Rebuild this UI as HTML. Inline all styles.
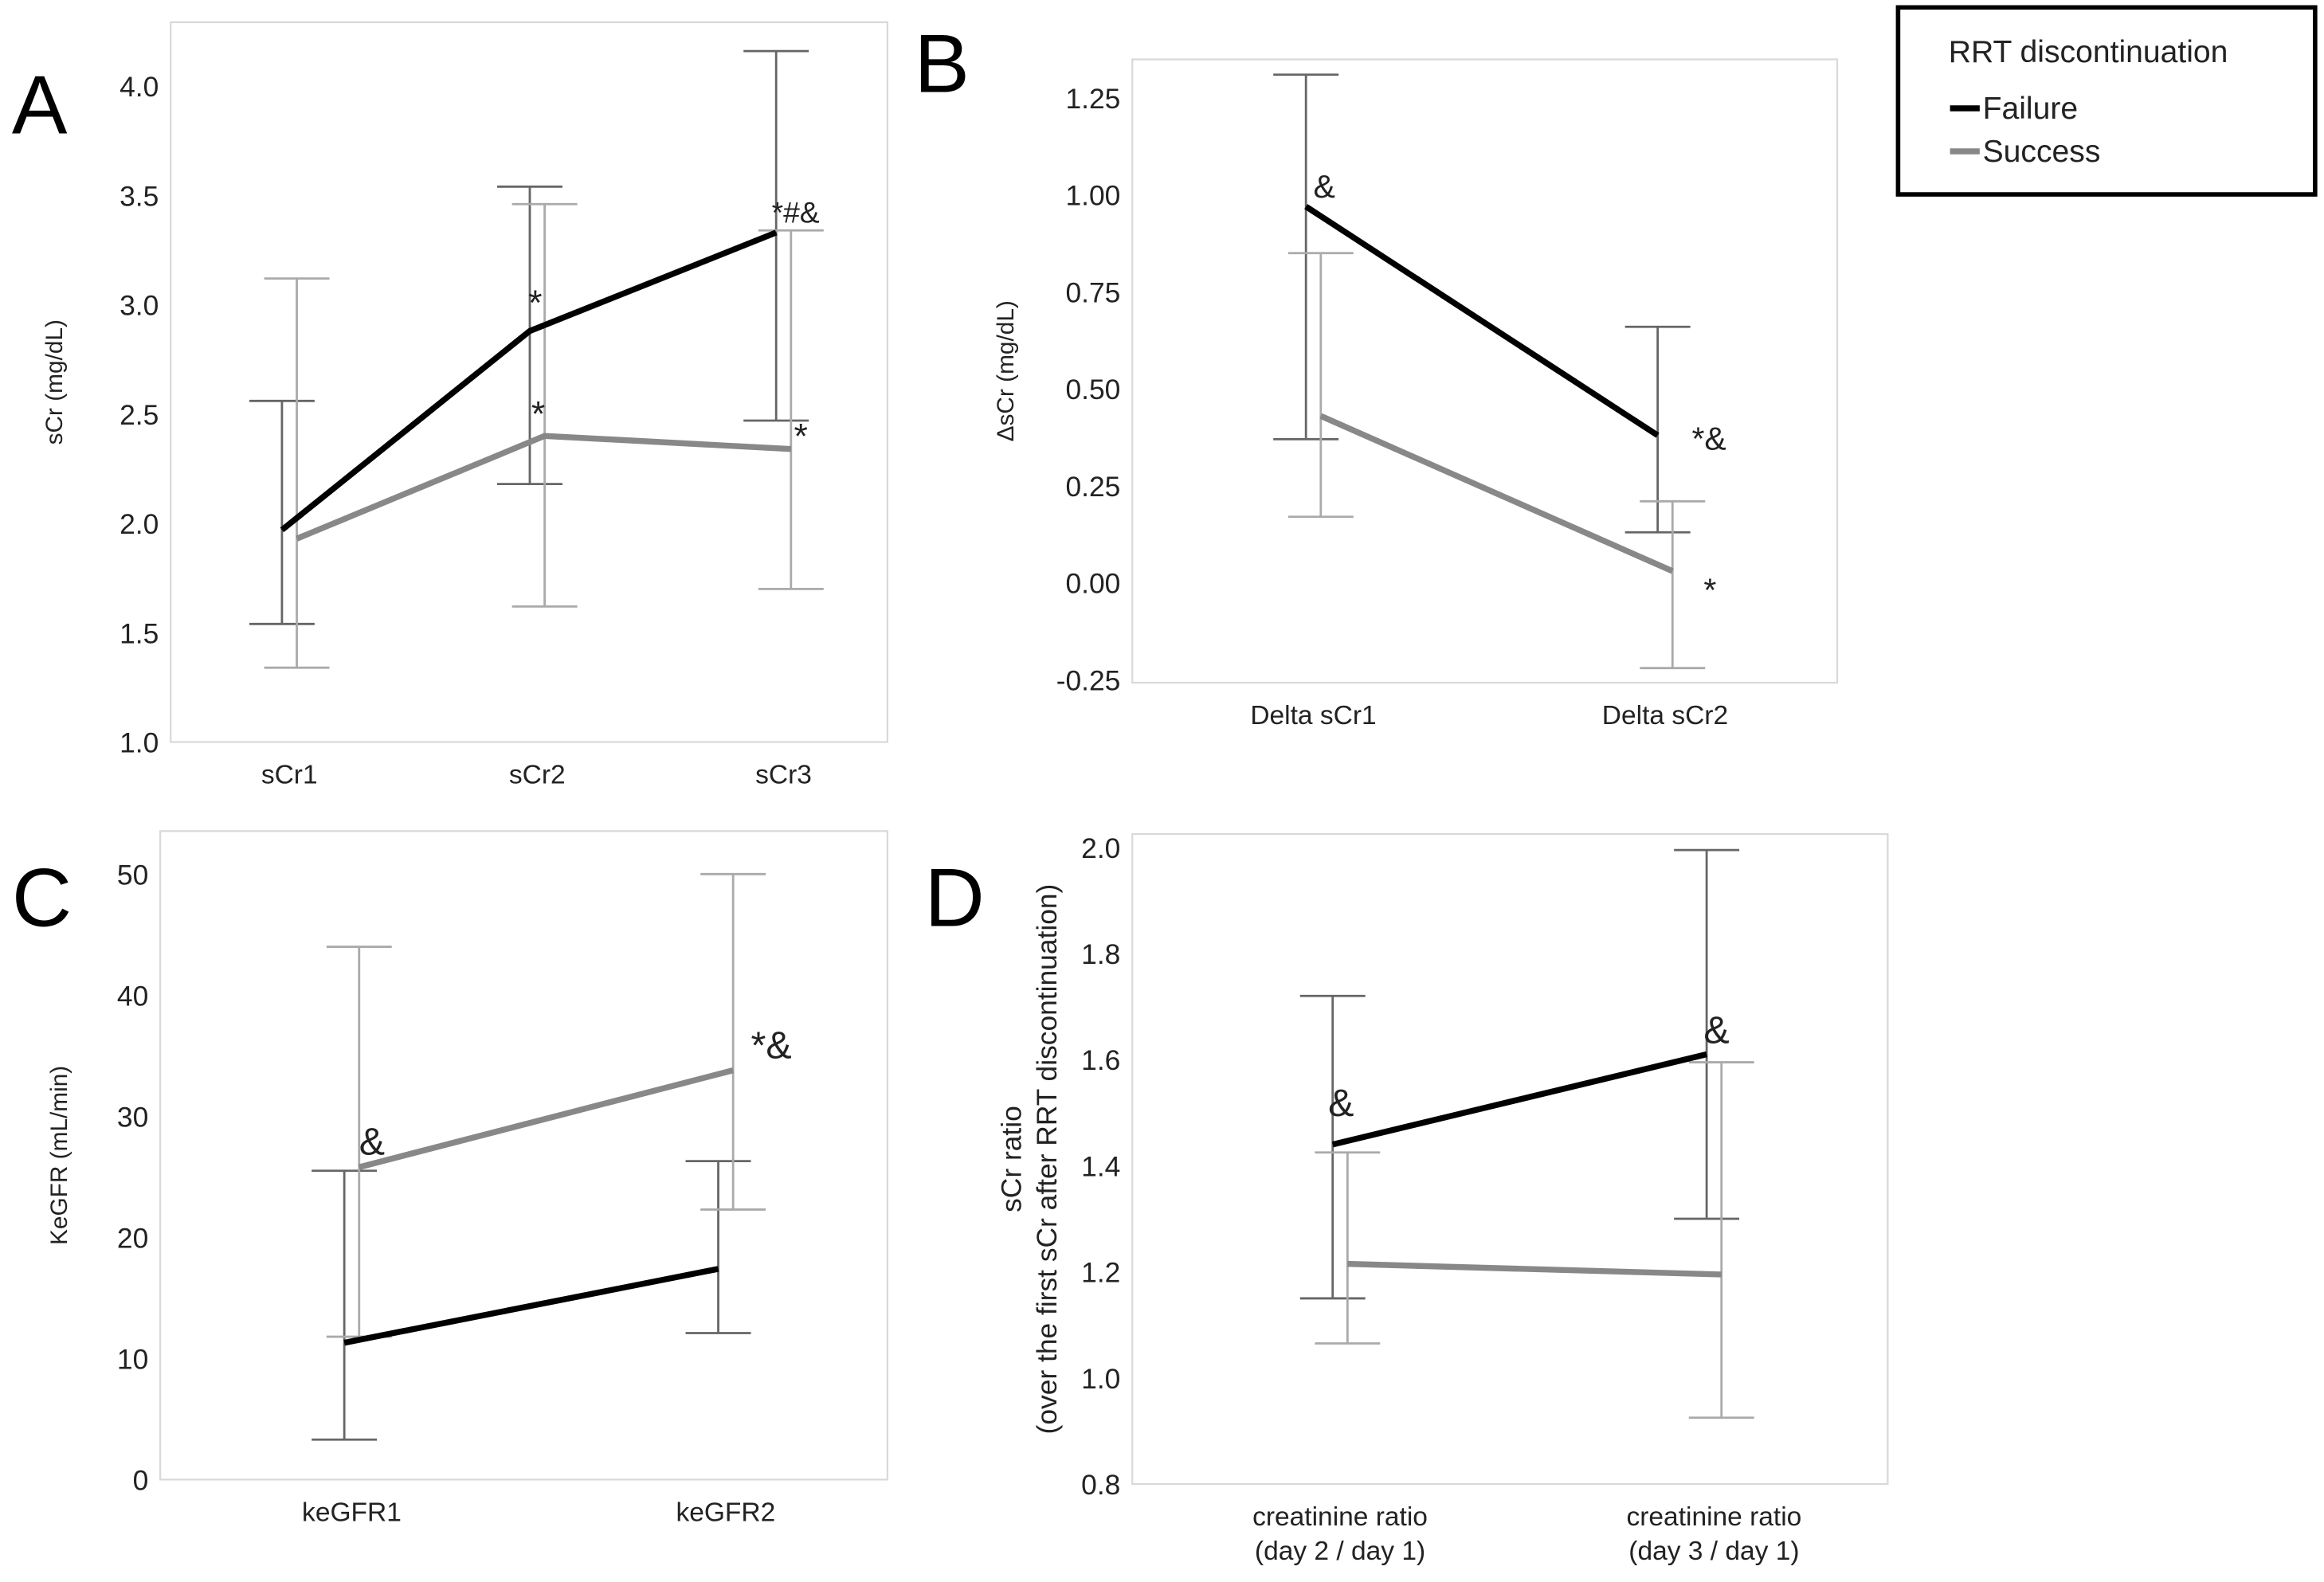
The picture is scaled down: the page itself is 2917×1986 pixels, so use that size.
<!DOCTYPE html>
<html><head><meta charset="utf-8"><style>
html,body{margin:0;padding:0;background:#fff;}
svg{display:block;font-family:"Liberation Sans",sans-serif;}
</style></head><body>
<svg id="fig" width="2917" height="1986" viewBox="0 0 1566 1066" preserveAspectRatio="none" xmlns="http://www.w3.org/2000/svg"></svg>
<script>
// Panel A data
const aCats = ["sCr1","sCr2","sCr3"];
const aFail = [1.97, 2.88, 3.33];
const aFailLo = [1.54, 2.18, 2.47];
const aFailHi = [2.56, 3.54, 4.16];
const aSucc = [1.93, 2.40, 2.34];
const aSuccLo = [1.34, 1.62, 1.70];
const aSuccHi = [3.12, 3.46, 3.34];
const aTicks = ["1.0","1.5","2.0","2.5","3.0","3.5","4.0"];
// Panel B data
const bCats = ["Delta sCr1","Delta sCr2"];
const bFail = [0.97, 0.38];
const bFailLo = [0.37, 0.13];
const bFailHi = [1.31, 0.66];
const bSucc = [0.43, 0.03];
const bSuccLo = [0.17, -0.22];
const bSuccHi = [0.85, 0.21];
const bTicks = ["-0.25","0.00","0.25","0.50","0.75","1.00","1.25"];
// Panel C data
const cCats = ["keGFR1","keGFR2"];
const cFail = [11.3, 17.4];
const cFailLo = [3.3, 12.1];
const cFailHi = [25.5, 26.3];
const cSucc = [25.8, 33.8];
const cSuccLo = [11.8, 22.3];
const cSuccHi = [44.0, 50.0];
const cTicks = ["0","10","20","30","40","50"];
// Panel D data
const dCats = [["creatinine ratio","(day 2 / day 1)"],["creatinine ratio","(day 3 / day 1)"]];
const dFail = [1.44, 1.61];
const dFailLo = [1.15, 1.30];
const dFailHi = [1.72, 1.995];
const dSucc = [1.215, 1.195];
const dSuccLo = [1.065, 0.925];
const dSuccHi = [1.425, 1.595];
const dTicks = ["0.8","1.0","1.2","1.4","1.6","1.8","2.0"];

const NS="http://www.w3.org/2000/svg";
const svg=document.getElementById("fig");
function el(tag,attrs,parent){const e=document.createElementNS(NS,tag);for(const k in attrs)e.setAttribute(k,attrs[k]);(parent||svg).appendChild(e);return e;}
function txt(s,attrs,parent){const t=el("text",attrs,parent);t.textContent=s;return t;}

function panel(o){
  const g=el("g",{});
  
  
  const box=el("rect",{x:o.x0,y:o.y0,width:o.x1-o.x0,height:o.y1-o.y0,fill:"none",stroke:"#d9d9d9","stroke-width":1.2},g);
  
  
  const yS=v=>o.yb+(v-o.vmin)*(o.yt-o.yb)/(o.vmax-o.vmin);
  o.ticks.forEach(t=>{
    const v=parseFloat(t);
    const tl=txt(t,{x:o.x0-8,y:yS(v)+7,"text-anchor":"end","font-size":19,fill:"#222"},g);
    
    
  });
  o.cats.forEach((c,i)=>{
    const lines=Array.isArray(c)?c:[c];
    lines.forEach((l,j)=>{
      const cl=txt(l,{x:o.cx[i],y:o.y1+28+j*23,"text-anchor":"middle","font-size":18,fill:"#222"},g);
      
      
    });
  });
  function bars(vals,lo,hi,dx,col,nm){
    vals.forEach((v,i)=>{
      const x=o.cx[i]+dx;
      const eb=el("g",{stroke:col,"stroke-width":1.5},g);
      
      
      el("line",{x1:x,x2:x,y1:yS(lo[i]),y2:yS(hi[i])},eb);
      el("line",{x1:x-22,x2:x+22,y1:yS(lo[i]),y2:yS(lo[i])},eb);
      el("line",{x1:x-22,x2:x+22,y1:yS(hi[i]),y2:yS(hi[i])},eb);
    });
  }
  bars(o.fail,o.failLo,o.failHi,-5,"#666","error-bar-failure");
  bars(o.succ,o.succLo,o.succHi,5,"#aaa","error-bar-success");
  const ps=el("polyline",{points:o.succ.map((v,i)=>(o.cx[i]+5)+","+yS(v)).join(" "),fill:"none",stroke:"#888","stroke-width":4},g);
  
  
  const pf=el("polyline",{points:o.fail.map((v,i)=>(o.cx[i]-5)+","+yS(v)).join(" "),fill:"none",stroke:"#000","stroke-width":4},g);
  
  
  o.ytitle.forEach((l,j)=>{
    const yy=(o.y0+o.y1)/2, xx=o.ytx+j*24;
    const t=txt(l,{x:xx,y:yy,"text-anchor":"middle","font-size":o.ytfs||16,fill:"#222",transform:`rotate(-90 ${xx} ${yy})`},g);
    
    
  });
  const L=txt(o.letter,{x:o.lx,y:o.ly,"font-size":56,fill:"#000"},g);
  
  
  o.notes.forEach(n=>{
    const t=txt(n[0],{x:n[1],y:n[2],"font-size":n[3]||22,fill:"#222"},g);
    
    
  });
}

panel({name:"panel-a",letter:"A",lx:8,ly:90,x0:115,x1:598,y0:15,y1:500,yb:500,yt:58,vmin:1,vmax:4,ticks:aTicks,cats:aCats,cx:[195,362,528],
  fail:aFail,failLo:aFailLo,failHi:aFailHi,succ:aSucc,succLo:aSuccLo,succHi:aSuccHi,ytitle:["sCr (mg/dL)"],ytx:42,
  notes:[["*",356,212,24],["*",358,287,24],["*#&",520,150,20],["*",535,302,24]]});
panel({name:"panel-b",letter:"B",lx:616,ly:62,x0:763,x1:1238,y0:40,y1:460,yb:458,yt:66,vmin:-0.25,vmax:1.25,ticks:bTicks,cats:bCats,cx:[885,1122],
  fail:bFail,failLo:bFailLo,failHi:bFailHi,succ:bSucc,succLo:bSuccLo,succHi:bSuccHi,ytitle:["\u0394sCr (mg/dL)"],ytx:683,
  notes:[["&",885,133],["*&",1140,303],["*",1148,405]]});
panel({name:"panel-c",letter:"C",lx:8,ly:624,x0:108,x1:598,y0:560,y1:997,yb:997,yt:589,vmin:0,vmax:50,ticks:cTicks,cats:cCats,cx:[237,489],
  fail:cFail,failLo:cFailLo,failHi:cFailHi,succ:cSucc,succLo:cSuccLo,succHi:cSuccHi,ytitle:["KeGFR (mL/min)"],ytx:45,
  notes:[["&",242,778,26],["*&",506,713,26]]});
panel({name:"panel-d",letter:"D",lx:623,ly:624,x0:763,x1:1272,y0:562,y1:1000,yb:1000,yt:571,vmin:0.8,vmax:2.0,ticks:dTicks,cats:dCats,cx:[903,1155],
  fail:dFail,failLo:dFailLo,failHi:dFailHi,succ:dSucc,succLo:dSuccLo,succHi:dSuccHi,ytitle:["sCr ratio","(over the first sCr after RRT discontinuation)"],ytx:688,ytfs:19,
  notes:[["&",895,752,26],["&",1148,703,26]]});

const lg=el("g",{});


el("rect",{x:1279,y:5,width:281,height:126,fill:"#fff",stroke:"#000","stroke-width":3},lg);
const lt=txt("RRT discontinuation",{x:1313,y:42,"font-size":21,fill:"#222"},lg);


const lf=el("g",{},lg);


el("line",{x1:1314,x2:1334,y1:73,y2:73,stroke:"#000","stroke-width":4},lf);
txt("Failure",{x:1336,y:80,"font-size":21,fill:"#222"},lf);
const ls=el("g",{},lg);


el("line",{x1:1314,x2:1334,y1:102,y2:102,stroke:"#888","stroke-width":4},ls);
txt("Success",{x:1336,y:109,"font-size":21,fill:"#222"},ls);
</script>
</body></html>
